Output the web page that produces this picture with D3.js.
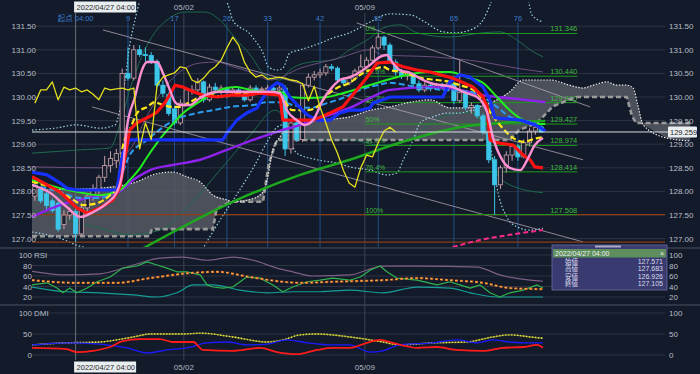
<!DOCTYPE html>
<html lang="ja">
<head>
<meta charset="UTF-8">
<script src="https://d3js.org/d3.v7.min.js"></script>
<style>
  body { margin: 0; background: #131a29; }
  svg { display: block; font-family: "Liberation Sans", "Noto Sans CJK JP", sans-serif; }
</style>
</head>
<body>
<script>
const W = 700, H = 374;

// ---------- data (bar index 0 = 2022/04/27 04:00, 4h bars) ----------
const firstBar = -7;
// [open, high, low, close]
const candles = [
  [127.9,128.2,127.8,128.1],[128.05,128.1,127.75,127.8],[127.95,128.0,127.6,127.7],[127.8,127.85,127.55,127.6],
  [127.75,127.85,127.15,127.2],[127.3,127.6,127.2,127.5],[127.5,127.65,127.4,127.571],[127.571,127.683,126.926,127.105],
  [127.1,127.75,127.05,127.65],[127.65,127.95,127.55,127.9],[127.9,128.15,127.8,128.05],[128.05,128.35,127.95,128.3],
  [128.3,128.75,128.2,128.55],[128.55,128.85,128.4,128.7],[128.65,128.9,128.5,128.8],[128.8,130.6,128.7,130.5],
  [130.5,131.05,130.35,130.4],[130.4,131.1,130.35,131.0],[131.0,131.1,130.85,130.9],[130.9,131.05,130.75,130.88],
  [130.88,130.95,130.7,130.75],[130.75,130.8,130.2,130.25],[130.25,130.35,130.0,130.08],[130.05,130.1,129.6,129.65],
  [129.75,129.8,129.4,129.45],[129.45,129.95,129.4,129.87],[129.87,130.2,129.8,130.15],[130.15,130.25,130.05,130.15],
  [130.15,130.4,130.1,130.32],[130.32,130.35,129.88,129.94],[129.94,130.28,129.9,130.21],[130.21,130.3,130.1,130.15],
  [130.15,130.25,130.05,130.19],[130.19,130.22,130.05,130.11],[130.11,130.2,130.05,130.15],[130.15,130.2,130.0,130.06],
  [130.06,130.1,129.9,129.94],[129.94,130.25,129.9,130.19],[130.19,130.25,130.1,130.15],[130.15,130.22,130.08,130.17],
  [130.17,130.26,130.1,130.19],[130.19,130.24,130.1,130.15],[130.15,130.28,130.1,130.19],[130.19,130.25,128.75,128.9],
  [128.9,129.5,128.8,129.45],[129.45,129.55,129.05,129.1],[129.1,130.3,129.05,130.25],[130.25,130.5,130.2,130.42],
  [130.42,130.55,130.35,130.47],[130.47,130.6,130.4,130.51],[130.51,130.7,130.45,130.64],[130.64,130.7,130.55,130.61],
  [130.61,130.65,130.3,130.36],[130.36,130.4,130.25,130.3],[130.3,130.45,130.25,130.4],[130.4,130.6,130.35,130.55],
  [130.55,130.9,130.5,130.64],[130.64,130.85,130.6,130.78],[130.78,131.1,130.7,131.04],[131.04,131.346,131.0,131.27],
  [131.27,131.3,131.0,131.1],[131.1,131.15,130.7,130.74],[130.74,130.8,130.45,130.53],[130.53,130.6,130.38,130.45],
  [130.45,130.55,130.35,130.47],[130.47,130.5,130.22,130.28],[130.28,130.35,130.1,130.15],[130.15,130.32,130.1,130.25],
  [130.25,130.3,130.12,130.18],[130.18,130.3,130.15,130.25],[130.25,130.3,130.15,130.2],[130.2,130.3,130.12,130.28],
  [130.28,130.3,129.85,129.92],[129.92,130.78,129.88,130.1],[130.1,130.15,129.72,129.78],[129.78,129.88,129.65,129.82],
  [129.82,129.85,129.55,129.6],[129.6,129.65,129.2,129.25],[129.25,129.3,128.6,128.67],[128.67,128.75,127.508,128.14],
  [128.14,128.55,128.05,128.5],[128.5,128.85,128.4,128.77],[128.77,129.0,128.65,128.95],[128.95,129.0,128.65,128.73],
  [128.73,129.1,128.7,129.03],[129.03,129.35,128.95,129.28],[129.28,129.45,129.2,129.36],[129.36,129.4,129.24,129.26]
];
// lagging span, bars -7 .. 55
const chikou = [129.87,130.15,130.15,130.32,129.94,130.21,130.15,130.19,130.11,130.15,130.06,129.94,130.19,130.15,
  130.17,130.19,130.15,130.19,128.9,129.45,129.1,130.25,130.42,130.47,130.51,130.64,130.61,130.36,130.3,130.4,130.55,
  130.64,130.78,131.04,131.27,131.1,130.74,130.53,130.42,130.47,130.38,130.4,130.42,130.4,130.36,130.34,130.28,129.92,
  130.23,129.79,129.45,129.09,128.81,128.45,128.18,128.09,128.5,128.77,128.73,129.03,129.28,129.36,129.26];

// [bar, price]
const tenkan = [[-7.5,128.31],[-2.7,127.99],[0.2,127.65],[2,127.54],[4.2,127.65],[6.4,127.82],[7.6,128.09],[9.3,129.3],
  [10.5,129.45],[12.3,129.56],[14,129.68],[15.4,129.89],[17.1,130.25],[18.5,130.21],[20.2,130.11],[21.9,130.04],
  [24.3,130.0],[26.5,130.04],[29.4,130.04],[31.7,130.08],[35.1,130.04],[35.6,129.51],[40.8,129.51],[43.7,129.66],
  [45.9,129.79],[48.3,130.15],[50.1,130.42],[51.8,130.72],[54,130.74],[56.3,130.64],[58.7,130.57],[60.9,130.53],
  [64.8,130.4],[68.3,130.21],[70,130.0],[70.7,129.79],[71.2,129.09],[72.4,129.03],[75.2,128.98],[76.9,128.77],
  [78.1,128.67],[78.9,128.52],[80.3,128.5]];
const kijun = [[-7.5,128.41],[-4.9,128.35],[-2.7,128.18],[-1.5,128.07],[0.2,128.03],[7.1,128.03],[8.1,128.81],[9.3,129.09],
  [25.3,129.09],[26,129.24],[27.7,129.51],[29.4,129.66],[31.2,129.77],[31.7,129.89],[33.4,130.19],[34.6,130.3],
  [35.6,130.25],[36.8,130.0],[38.6,129.77],[39.8,129.62],[41.5,129.51],[43.7,129.51],[45.4,129.66],[47.1,129.72],
  [48.9,129.72],[50.6,129.77],[51.1,129.87],[52.8,129.94],[54,130.0],[63.1,130.0],[64.3,130.32],[66,130.47],
  [67.8,130.42],[70,130.21],[71.2,129.94],[72,129.56],[76.4,129.51],[79,129.41],[80.7,129.28]];
const maPink = [[-7.5,128.14],[-4.4,127.97],[-1.5,127.67],[0.8,127.46],[3,127.56],[5.4,127.75],[7.1,127.99],[8.1,128.45],
  [8.8,129.34],[10.2,130.0],[11.4,130.57],[12.3,130.74],[14,130.74],[15,130.51],[16.2,130.15],[17.1,129.89],[17.9,129.83],
  [19.6,129.83],[21.4,129.98],[23.1,130.08],[24.8,130.11],[29.4,130.11],[33.4,130.11],[35.1,130.08],[36.3,129.72],
  [38,129.51],[39.4,129.41],[40.8,129.51],[42.5,129.94],[44.1,130.21],[45.4,130.36],[47.1,130.42],[48.9,130.53],
  [50.6,130.68],[52.3,130.85],[53.5,130.89],[54.5,130.72],[55.7,130.57],[57.5,130.51],[59.7,130.36],[60.9,130.3],
  [64.8,130.21],[67.2,130.08],[69,130.0],[70.7,129.68],[71.7,129.15],[73.3,128.67],[74.6,128.5],[76.4,128.45],
  [77.6,128.67],[78.9,128.98],[80.3,129.13]];
const maYellow = [[-7.5,128.2],[-4.4,128.09],[-0.4,127.82],[1.3,127.71],[3.7,127.75],[5.9,127.92],[7.1,128.09],[8.1,128.94],
  [9.3,129.3],[10.7,129.68],[12.3,129.79],[13.6,129.89],[15,129.83],[16.6,129.79],[17.9,129.79],[19.6,129.89],[21.4,130.0],
  [23.1,130.04],[25.3,130.0],[27.7,130.08],[30,130.08],[32.9,130.11],[35.1,130.04],[37.3,129.72],[39.8,129.72],
  [41.5,129.79],[43.2,130.04],[44.9,130.19],[47.1,130.3],[49.4,130.51],[51.8,130.61],[52.8,130.64],[54,130.57],
  [56.3,130.53],[58.7,130.42],[62.1,130.36],[64.3,130.32],[66,130.25],[68.3,130.15],[70,129.94],[71.2,129.68],
  [72.9,129.41],[75.2,129.13],[76.9,129.05],[79.3,129.13],[80.3,129.15]];
const maBlueDash = [[-7.5,128.14],[-2.7,127.99],[0.8,127.86],[4.2,127.86],[6.8,128.03],[9.3,128.77],[12.3,129.09],
  [15,129.36],[17.9,129.56],[20.9,129.66],[23.6,129.72],[26.5,129.79],[30.5,129.83],[32.9,129.89],[35.6,129.89],
  [37.3,129.83],[40.3,129.77],[43.2,129.87],[45.9,129.98],[48.9,130.15],[51.8,130.25],[54,130.3],[58.7,130.21],
  [63.1,130.15],[67.8,130.11],[70,130.0],[72.4,129.79],[74.6,129.58],[76.4,129.51],[78.6,129.45],[80.3,129.36]];
const maLime = [[-7.5,128.24],[-2.7,128.07],[0.2,127.99],[4.2,127.92],[7.6,128.03],[9.3,128.24],[11.1,128.5],[12.3,128.73],
  [14,129.03],[16.2,129.36],[18.5,129.66],[20.9,129.87],[23.1,130.04],[26,130.19],[27.7,130.21],[30,130.15],[32.9,130.11],
  [35.1,130.11],[36.8,130.0],[39.8,129.98],[43.2,130.0],[45.9,130.08],[48.9,130.19],[51.8,130.3],[55.2,130.42],
  [58.7,130.51],[61.4,130.53],[64.3,130.53],[67.2,130.42],[70,130.3],[72.4,130.0],[74.6,129.72],[76.9,129.51],
  [79.3,129.43],[80.7,129.43]];
const maPurple = [[-7.5,127.46],[-2.7,127.71],[3,127.88],[7.1,127.97],[9.9,128.24],[12.8,128.45],[16.7,128.56],
  [21.4,128.67],[26,128.88],[30.5,129.09],[34.6,129.26],[38.6,129.41],[43.7,129.62],[47.1,129.77],[50.6,129.98],
  [54,130.15],[60.9,130.21],[66,130.15],[70,130.04],[75.8,129.96],[80.7,129.89]];
const maLong = [[11.1,126.76],[27,127.78],[38.6,128.35],[47.1,128.67],[55.7,129.03],[66,129.36],[72.9,129.45],[80.7,129.49]];
const sarDash = [[64.8,126.82],[69.5,126.97],[74.6,127.08],[80.3,127.18]];

const bandUpper2 = [[-7.5,129.3],[-3.5,129.34],[0.2,129.41],[4.2,129.34],[6.8,129.41],[7.6,129.72],[8.5,130.36],[9.3,131.1],
  [10.2,131.63],[11.1,132.06],[14.5,132.69],[19.6,132.9],[24.8,132.27],[26.2,131.95],[27,131.63],[28.2,131.48],
  [29.6,131.38],[30.5,131.25],[32.2,130.93],[33.1,130.64],[34.6,130.57],[35.6,130.61],[36.8,130.93],[38.6,131.0],
  [42,131.14],[44.2,131.25],[47.1,131.36],[50.6,131.59],[54,131.76],[57.5,131.74],[60,131.59],[63.1,131.38],
  [65.2,131.36],[67.8,131.42],[70,131.63],[71.2,131.95],[72.9,132.48],[77.2,132.37],[78.4,131.74],[80.3,131.59]];
const bandLower2 = [[-7.5,127.14],[-2.7,127.01],[0.2,126.86],[4.2,126.72],[9.3,126.23],[14.5,126.02],[19.6,126.33],
  [22.2,126.86],[24.8,127.39],[28.2,128.03],[30.8,128.56],[33.1,129.09],[34.6,129.36],[35.6,129.41],[36.8,129.09],
  [38,128.81],[41.5,128.67],[44.9,128.6],[47.1,128.52],[50.6,128.45],[53.5,128.35],[55.2,128.39],[56.3,128.67],
  [58,129.09],[59.2,129.45],[61.4,129.58],[63.8,129.66],[66,129.66],[68.3,129.72],[69.5,129.56],[70.7,129.19],
  [71.7,128.67],[72.4,128.09],[74.1,127.46],[75.8,127.25],[78.1,127.18],[80.3,127.22]];
const bandUpper1 = [[-7.5,128.81],[0.8,128.88],[5.9,128.92],[7.6,129.41],[9.3,130.15],[11.1,130.78],[13.3,131.31],
  [15.7,131.63],[18.8,131.8],[22.2,131.8],[24.8,131.63],[27.4,131.25],[30,130.89],[32.5,130.47],[35.1,130.36],
  [36.8,130.57],[40.3,130.74],[44.2,130.78],[47.1,131.0],[50.6,131.25],[52.8,131.46],[55.7,131.53],[58.7,131.36],
  [64.3,131.27],[70,131.36],[72.9,131.38],[75.8,131.21],[78.1,131.0],[80.3,130.85]];
const bandLower1 = [[-7.5,127.61],[0.2,127.35],[4.2,127.22],[9.3,127.08],[14.5,127.18],[19.6,127.71],[24.8,128.45],
  [30,129.19],[34.3,129.72],[35.6,129.62],[38,129.19],[42,129.09],[47.1,129.09],[52.3,128.98],[57.5,129.13],
  [62.6,129.56],[67.8,129.68],[70.3,129.3],[72,128.45],[74.6,128.14],[80.3,127.97]];
const envMauve = [[-7.5,128.52],[4.2,128.5],[9.3,128.88],[12.8,129.72],[16.7,130.4],[21.4,130.72],[24.3,130.74],
  [27,130.64],[30.5,130.51],[33.4,130.36],[38.6,130.61],[45.4,130.83],[50.6,131.0],[52.8,130.89],[61.4,130.85],
  [70,130.74],[75.8,130.61],[80.3,130.53]];

const spanA = [[-7.5,128.03],[4.2,128.07],[9.9,128.18],[14.5,128.39],[16.7,128.41],[19.1,128.31],[21.4,128.2],
  [23.6,127.92],[26,127.82],[27,127.78],[30.8,127.86],[32.2,127.99],[32.9,128.24],[33.9,128.88],[35.1,129.15],
  [36.8,129.41],[42,129.51],[47.1,129.58],[50.6,129.72],[54,129.79],[57.5,129.89],[60.9,129.94],[64.3,129.77],
  [67.8,129.77],[71.2,129.87],[74.6,130.11],[76.9,130.36],[81.5,130.36],[84.9,130.25],[87.2,130.19],[88.9,130.25],
  [91.3,130.32],[93,130.25],[94.7,130.25],[95.8,130.19],[96.6,129.83],[97.5,129.41],[101.6,129.13],[105.6,129.07]];
const spanB = [[-7.5,127.05],[12.7,127.05],[13.1,127.2],[23.6,127.2],[24.2,127.62],[26.5,127.78],[32.2,127.78],
  [33.2,128.6],[34.6,129.09],[74.6,129.09],[76.2,129.3],[79.3,129.45],[82,129.8],[84.9,129.95],[86.2,130.0],
  [94.7,130.0],[95.6,129.6],[96.3,129.45],[105.6,129.45]];

// trend lines [bar, price] start/end
const trendLines = [
  [[4.7,131.42],[87.2,128.67]],
  [[2.8,129.79],[87.2,126.93]],
  [[48.3,131.57],[88.4,129.79]]
];
const fibPct = ["0%","23.6%","38.2%","50%","61.8%","76.4%","100%"];
const fibPrice = [131.346,130.440,129.880,129.427,128.974,128.414,127.508];
const supportLines = [127.508, 126.926];
const lastPrice = 129.259;

const priceTicks = [127,127.5,128,128.5,129,129.5,130,130.5,131,131.5];
const rsiTicks = [20,40,60,80,100];
const dmiTicks = [0,50,100];
const countBars = [9,17,26,33,42,52,65,76];
const dayLines = [[18.6,"05/02"],[49.7,"05/09"]];
const crossLabel = "2022/04/27 04:00";
const ohlcNames = ["始値","高値","安値","終値"];
const ohlcValues = ["127.571","127.683","126.926","127.105"];

// RSI panel [bar, value]
const rsiUpper = [[-7.5,69],[-1.5,62],[4.2,64],[9.9,81],[14.5,94],[18.5,96],[22.6,90],[27,96],[30.5,90],[34.6,75],
  [37.3,68],[40.8,60],[47.1,62],[52.8,79],[58.7,79],[69,77],[72.9,62],[78.1,52],[80.3,50]];
const rsiMain = [[-7.5,43],[-4.9,47],[-3.2,37],[-2.2,28],[-1,37],[0.2,28],[2,37],[3.7,49],[5.9,58],[8.1,75],[10.5,79],
  [12.3,87],[14,81],[15.7,75],[17.4,68],[19.1,68],[21.4,62],[22.6,43],[23.6,39],[25.3,37],[27,39],[29.4,58],[31.7,56],
  [33.9,43],[35.6,30],[37.3,39],[39.8,49],[42,52],[44.2,56],[47.1,52],[48.9,58],[50.6,71],[52.3,79],[53.5,68],
  [55.2,56],[58.7,52],[62.1,43],[64.3,49],[66,43],[67.8,37],[69.5,43],[71.2,28],[72.9,20],[74.6,28],[76.9,33],
  [79.3,43],[80.3,37]];
const rsiLower = [[-7.5,39],[-1.5,30],[4.2,28],[9.9,24],[14,20],[17.4,28],[20.2,43],[23.6,43],[28.2,33],[32.9,28],
  [37.3,30],[42,30],[47.1,33],[52.8,28],[58.7,39],[64.3,37],[67.8,28],[72.4,20],[76.9,20],[80.3,20]];
const rsiSignal = [[-7.5,52],[0.2,47],[7.1,47],[12.8,56],[20.2,66],[24.3,68],[30,58],[35.6,49],[38.6,47],[44.2,49],
  [47.1,50],[52.8,52],[58.7,56],[64.3,52],[70,47],[74.6,37],[80.3,35]];

// DMI panel [bar, value]
const adx = [[-7.5,24],[-1.5,29],[4.2,31],[9.9,43],[12.8,50],[18.5,50],[21.4,52],[27,43],[32.9,31],[35.6,36],[38.6,48],
  [41.5,50],[47.1,43],[52.8,31],[55.7,24],[61.4,29],[67.2,31],[71.7,43],[74.6,48],[78.1,43],[80.3,40]];
const plusDI = [[-7.5,24],[-1.5,29],[4.2,26],[8.8,17],[12.3,5],[15.7,12],[19.1,17],[22.6,29],[26,31],[29.4,24],
  [32.9,26],[36.3,36],[39.8,29],[44.2,24],[47.1,24],[50.6,7],[52.8,10],[55.7,24],[61.4,29],[65.5,36],[69,29],
  [71.7,36],[74.6,31],[78.1,29],[80.3,29]];
const minusDI = [[-7.5,17],[-1.5,14],[0.2,7],[3,10],[5.9,19],[8.1,33],[11.1,38],[14.5,38],[16.7,31],[20.2,31],
  [21.9,12],[27,10],[31.7,17],[34.6,7],[38,2],[41.5,12],[44.2,17],[47.1,17],[50.1,29],[52.3,36],[54.5,29],[58.7,17],
  [62.1,19],[65.5,12],[70,10],[73.4,17],[76.9,19],[79.3,24],[80.3,17]];

// ---------- scales ----------
const x = d3.scaleLinear().domain([0, 76]).range([75.6, 75.6 + 5.82 * 76]);
const y = d3.scaleLinear().domain([127, 131.5]).range([238.6, 26.2]);
const yR = d3.scaleLinear().domain([0, 100]).range([307.5, 255]);
const yD = d3.scaleLinear().domain([0, 100]).range([355, 313]);

const svg = d3.select("body").append("svg").attr("width", W).attr("height", H);
svg.append("rect").attr("width", W).attr("height", H).attr("fill", "#131a29");

const defs = svg.append("defs");
defs.append("clipPath").attr("id", "cMain").append("rect").attr("x", 32).attr("y", 2).attr("width", 668).attr("height", 245);
defs.append("clipPath").attr("id", "cRsi").append("rect").attr("x", 32).attr("y", 249).attr("width", 620).attr("height", 56);
defs.append("clipPath").attr("id", "cDmi").append("rect").attr("x", 32).attr("y", 306).attr("width", 620).attr("height", 54);

const gridColor = "#2d3544";

// horizontal grid
svg.append("g").selectAll("line").data(priceTicks).join("line")
  .attr("x1", 32).attr("x2", 665).attr("y1", d => y(d)).attr("y2", d => y(d))
  .attr("stroke", gridColor).attr("stroke-width", 1);
svg.append("g").selectAll("line").data(rsiTicks).join("line")
  .attr("x1", 32).attr("x2", 665).attr("y1", d => yR(d)).attr("y2", d => yR(d))
  .attr("stroke", gridColor);
svg.append("g").selectAll("line").data(dmiTicks).join("line")
  .attr("x1", 32).attr("x2", 665).attr("y1", d => yD(d)).attr("y2", d => yD(d))
  .attr("stroke", gridColor);

// panel separators
[248, 305].forEach(v => svg.append("line").attr("x1", 0).attr("x2", W).attr("y1", v).attr("y2", v)
  .attr("stroke", "#4a5264").attr("stroke-width", 1));

// vertical day lines + crosshair
svg.append("g").selectAll("line").data(dayLines).join("line")
  .attr("x1", d => x(d[0])).attr("x2", d => x(d[0])).attr("y1", 13).attr("y2", 360)
  .attr("stroke", "#3c4556");
svg.append("line").attr("x1", x(0)).attr("x2", x(0)).attr("y1", 13).attr("y2", 360)
  .attr("stroke", "#7d8694").attr("stroke-width", 0.8);

const main = svg.append("g").attr("clip-path", "url(#cMain)");

// count lines
main.append("g").selectAll("line").data(countBars).join("line")
  .attr("x1", d => x(d)).attr("x2", d => x(d)).attr("y1", 22).attr("y2", 247)
  .attr("stroke", "#1f4f8a").attr("stroke-width", 1);

const px = d => x(d[0]);
const lineP = (curve) => d3.line().x(px).y(d => y(d[1])).curve(curve || d3.curveMonotoneX);

// cloud
const cloudPts = spanA.concat(spanB.slice().reverse());
main.append("path").attr("d", d3.line().x(px).y(d => y(d[1]))(cloudPts) + "Z")
  .attr("fill", "#575b64").attr("fill-opacity", 0.85);

function path(g, data, gen, color, width, dash, opacity) {
  return g.append("path").attr("d", gen(data)).attr("fill", "none")
    .attr("stroke", color).attr("stroke-width", width)
    .attr("stroke-dasharray", dash || null).attr("stroke-opacity", opacity || 1)
    .attr("stroke-linejoin", "round");
}

// bands
path(main, bandUpper1, lineP(), "#1d6a4e", 1);
path(main, bandLower1, lineP(), "#1d6a4e", 1);
path(main, envMauve, lineP(), "#6d4f80", 1);
path(main, bandUpper2, lineP(), "#9bd3e2", 1.2, "1.5,2");
path(main, bandLower2, lineP(), "#9bd3e2", 1.2, "1.5,2");

// trend lines
trendLines.forEach(t => path(main, t, lineP(d3.curveLinear), "#b7a9b9", 1, null, 0.75));

// support lines
main.append("g").selectAll("line").data(supportLines).join("line")
  .attr("x1", 32).attr("x2", 665).attr("y1", d => y(d)).attr("y2", d => y(d))
  .attr("stroke", "#8a3d12").attr("stroke-width", 1.2);

// fibonacci
const fibStart = 49.8, fibEnd = 86.2;
const fib = main.append("g");
fib.selectAll("line").data(fibPrice).join("line")
  .attr("x1", x(fibStart)).attr("x2", x(fibEnd)).attr("y1", d => y(d)).attr("y2", d => y(d))
  .attr("stroke", "#1f9a1f").attr("stroke-width", 1);
fib.selectAll("text.p").data(fibPrice).join("text").attr("class", "p")
  .attr("x", x(fibEnd)).attr("y", d => y(d) - 2).attr("text-anchor", "end")
  .attr("fill", "#3fb83f").attr("font-size", 7.5).text(d => d.toFixed(3));
fib.selectAll("text.q").data(fibPct).join("text").attr("class", "q")
  .attr("x", x(fibStart)).attr("y", (d, i) => y(fibPrice[i]) - 2)
  .attr("fill", "#3fb83f").attr("font-size", 7).text(d => d);

// span lines
path(main, spanB, lineP(d3.curveLinear), "#9a9a9a", 2.6, "5,3");
path(main, spanA, lineP(), "#e6e6e6", 1.2, "1.5,1.5");

// long MA
path(main, maLong, lineP(), "#1ea81e", 2.5);

// candles
const bars = candles.map((c, k) => ({ i: firstBar + k, o: c[0], h: c[1], l: c[2], c: c[3] }));
const bw = 4.2;
const up = d => d.c >= d.o;
main.append("g").selectAll("line").data(bars).join("line")
  .attr("x1", d => x(d.i)).attr("x2", d => x(d.i)).attr("y1", d => y(d.h)).attr("y2", d => y(d.l))
  .attr("stroke", d => up(d) ? "#c9a2ab" : "#3cc6ea").attr("stroke-width", 1);
main.append("g").selectAll("rect").data(bars).join("rect")
  .attr("x", d => x(d.i) - bw / 2).attr("width", bw)
  .attr("y", d => y(Math.max(d.o, d.c))).attr("height", d => Math.max(1, Math.abs(y(d.o) - y(d.c))))
  .attr("fill", d => up(d) ? "#1b2030" : "#3cc6ea")
  .attr("stroke", d => up(d) ? "#c9a2ab" : "#3cc6ea").attr("stroke-width", 0.8);

// moving averages / ichimoku lines
path(main, maPurple, lineP(), "#8f22ee", 2.4);
path(main, maBlueDash, lineP(), "#2b9df0", 2, "6,3");
path(main, maLime, lineP(), "#22ee22", 2);
path(main, maYellow, lineP(), "#ffe81c", 2.2, "6,3");
path(main, kijun, lineP(d3.curveLinear), "#1530ff", 3.2);
path(main, tenkan, lineP(d3.curveLinear), "#ff1212", 3.2);
path(main, maPink, lineP(), "#ff90d2", 2.4);
path(main, chikou.map((v, k) => [firstBar + k, v]), lineP(d3.curveLinear), "#e6e01e", 1.3);
path(main, sarDash, lineP(), "#ff2a8a", 2, "5,3");

// last price line
svg.append("line").attr("x1", 32).attr("x2", 668).attr("y1", y(lastPrice)).attr("y2", y(lastPrice))
  .attr("stroke", "#d8dde2").attr("stroke-width", 1);

// axes labels
const axisText = sel => sel.selectAll("text").attr("fill", "#b8bec8").attr("font-size", 8);
const clean = g => { g.select(".domain").remove(); g.selectAll("line").remove(); };
svg.append("g").attr("transform", "translate(669,0)")
  .call(d3.axisRight(y).tickValues(priceTicks).tickFormat(d3.format(".2f")).tickSize(0).tickPadding(0))
  .call(clean).call(axisText);
svg.append("g").attr("transform", "translate(36,0)")
  .call(d3.axisLeft(y).tickValues(priceTicks).tickFormat(d3.format(".2f")).tickSize(0).tickPadding(0))
  .call(clean).call(axisText);
svg.append("g").attr("transform", "translate(669,0)")
  .call(d3.axisRight(yR).tickValues(rsiTicks).tickSize(0).tickPadding(0)).call(clean).call(axisText);
svg.append("g").attr("transform", "translate(32,0)")
  .call(d3.axisLeft(yR).tickValues(rsiTicks).tickSize(0).tickPadding(0)).call(clean).call(axisText);
svg.append("g").attr("transform", "translate(669,0)")
  .call(d3.axisRight(yD).tickValues(dmiTicks).tickSize(0).tickPadding(0)).call(clean).call(axisText);
svg.append("g").attr("transform", "translate(32,0)")
  .call(d3.axisLeft(yD).tickValues(dmiTicks).tickSize(0).tickPadding(0)).call(clean).call(axisText);
svg.append("text").attr("x", 34).attr("y", yR(100) + 2.7).attr("fill", "#b8bec8").attr("font-size", 8).text("RSI");
svg.append("text").attr("x", 34).attr("y", yD(100) + 2.7).attr("fill", "#b8bec8").attr("font-size", 8).text("DMI");

// price tag
svg.append("rect").attr("x", 668).attr("y", y(lastPrice) - 5.5).attr("width", 29).attr("height", 11)
  .attr("fill", "#e9eef0").attr("rx", 1);
svg.append("text").attr("x", 670).attr("y", y(lastPrice) + 2.7).attr("fill", "#222").attr("font-size", 7.5).text(lastPrice.toFixed(3));

// RSI panel
const rsi = svg.append("g").attr("clip-path", "url(#cRsi)");
const lineR = (curve) => d3.line().x(px).y(d => yR(d[1])).curve(curve || d3.curveMonotoneX);
path(rsi, rsiUpper, lineR(), "#7d5f86", 1.2);
path(rsi, rsiLower, lineR(), "#159e96", 1.2);
path(rsi, rsiMain, lineR(d3.curveLinear), "#2fb34f", 1.2);
path(rsi, rsiSignal, lineR(), "#d8641e", 2.2, "3,2");
path(rsi, rsiSignal, lineR(), "#f3c060", 1, "2,3");

// DMI panel
const dmi = svg.append("g").attr("clip-path", "url(#cDmi)");
const lineD = (curve) => d3.line().x(px).y(d => yD(d[1])).curve(curve || d3.curveMonotoneX);
path(dmi, adx, lineD(), "#7c7a2a", 1.4);
path(dmi, adx, lineD(), "#ecec4a", 1.4, "1.2,1.8");
path(dmi, plusDI, lineD(), "#1b1bff", 1.3);
path(dmi, minusDI, lineD(), "#ff1b1b", 1.8);

// top / bottom time labels
[7, 367].forEach(ty => {
  svg.append("g").selectAll("text").data(dayLines).join("text")
    .attr("x", d => x(d[0])).attr("y", ty + 2.7).attr("text-anchor", "middle")
    .attr("fill", "#b0b7c2").attr("font-size", 8).text(d => d[1]);
  svg.append("rect").attr("x", x(0) - 1.5).attr("y", ty - 5.5).attr("width", 62).attr("height", 11)
    .attr("fill", "#e9eef0");
  svg.append("text").attr("x", x(0) + 1).attr("y", ty + 2.5).attr("fill", "#2a2a2a")
    .attr("font-size", 7.5).text(crossLabel);
});
svg.append("g").selectAll("text").data(countBars).join("text")
  .attr("x", d => x(d)).attr("y", 20.5).attr("text-anchor", "middle")
  .attr("fill", "#3a7ccc").attr("font-size", 7.5).text(d => d);
svg.append("text").attr("x", x(0)).attr("y", 20.5).attr("text-anchor", "middle")
  .attr("fill", "#3a7ccc").attr("font-size", 7.5).text("起点 04:00");

// OHLC info box
const box = svg.append("g");
box.append("rect").attr("x", 552).attr("y", 245).attr("width", 115).attr("height", 45)
  .attr("fill", "#3c3d74").attr("fill-opacity", 0.93).attr("stroke", "#6b6ea6").attr("stroke-width", 0.8);
box.append("rect").attr("x", 595).attr("y", 245.5).attr("width", 26).attr("height", 2).attr("fill", "#a9abc8");
box.append("rect").attr("x", 553).attr("y", 249).attr("width", 113).attr("height", 8.5).attr("fill", "#5e8d5e");
box.append("text").attr("x", 555).attr("y", 256).attr("fill", "#eef3ee").attr("font-size", 7).text(crossLabel);
box.append("text").attr("x", 660).attr("y", 256).attr("fill", "#eef3ee").attr("font-size", 7).text("×");
box.selectAll("text.n").data(ohlcNames).join("text").attr("class", "n")
  .attr("x", 565).attr("y", (d, k) => 264 + k * 7.3).attr("fill", "#d8dbee").attr("font-size", 6.5).text(d => d);
box.selectAll("text.v").data(ohlcValues).join("text").attr("class", "v")
  .attr("x", 663).attr("y", (d, k) => 264 + k * 7.3).attr("text-anchor", "end")
  .attr("fill", "#d8dbee").attr("font-size", 7).text(d => d);
</script>
</body>
</html>
